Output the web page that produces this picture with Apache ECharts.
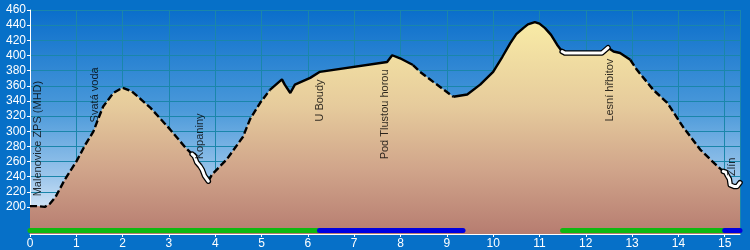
<!DOCTYPE html>
<html>
<head>
    <meta charset="utf-8"/>
    <title>Profil trasy</title>
    <script src="https://cdn.jsdelivr.net/npm/echarts@6/dist/echarts.min.js"></script>
    <style>
        body { margin: 0; }
        #main { width: 750px; height: 250px; background: #0670c8; }
    </style>
</head>
<body>
<div id="main"></div>
<script type="text/javascript">
    // profil: vzdalenost (km) a nadmorska vyska (m)
    var km = [0, 0.15, 0.32, 0.43, 0.55, 0.75, 1.0, 1.2, 1.37, 1.45, 1.58, 1.8, 2.0, 2.2, 2.59, 3.02, 3.35,
        3.5, 3.55, 3.6, 3.67, 3.72, 3.77, 3.85, 3.93, 4.25, 4.6, 4.75, 4.97, 5.18, 5.44, 5.5, 5.62, 5.72,
        6.05, 6.26, 7.71, 7.82, 7.99, 8.27, 8.42, 8.7, 9.14, 9.44, 9.72, 10.0, 10.2, 10.37, 10.5, 10.65,
        10.75, 10.9, 11.0, 11.12, 11.25, 11.38, 11.49, 11.55, 12.35, 12.48, 12.6, 12.74, 12.96, 13.1,
        13.46, 13.76, 14.1, 14.47, 14.84, 14.97, 15.02, 15.06, 15.1, 15.12, 15.2, 15.27, 15.33];
    var vyska = [200, 200, 199, 203, 212, 235, 259, 282, 299, 312, 332, 350, 357, 352, 331, 302, 278,
        269, 266, 258, 253, 248, 240, 233, 242, 262, 292, 315, 337, 354, 368, 361, 350, 361,
        370, 378, 391, 400, 396, 387, 378, 365, 345, 348, 361, 378, 398, 416, 428, 436,
        441, 444, 442, 436, 427, 414, 405, 403, 403, 410, 405, 403, 394, 381,
        354, 337, 305, 275, 253, 246, 245, 240, 236, 228, 226, 226, 231];

    // popisky zastavek
    var mistaNazvy = ['Malenovice ZPS (MHD)', 'Svatá voda', 'Kopaniny', 'U Boudy', 'Pod Tlustou horou', 'Lesní hřbitov', 'Zlín'];
    var mistaKm = [0.17, 1.4, 3.67, 6.26, 7.67, 12.53, 15.16];
    var mistaVyska = [213, 311, 262, 312, 262, 312, 240];

    // barevne useky pod profilem (od, do, barva)
    var usekyOd = [0, 6.25, 11.5, 15.0];
    var usekyDo = [6.25, 9.35, 15.0, 15.33];
    var usekyBarva = ['#10b810', '#0000e0', '#10b810', '#0000e0'];

    // styl cary profilu po usecich
    var caraOd = [0, 3.5, 3.85, 5.18, 8.27, 9.14, 11.49, 12.48, 12.96, 14.97];
    var caraDo = [3.5, 3.85, 5.18, 8.27, 9.14, 11.49, 12.48, 12.96, 14.97, 15.33];
    var caraTyp = ['dash', 'white', 'dash', 'solid', 'dash', 'solid', 'white', 'solid', 'dash', 'white'];

    var yTicks = { min: 200, max: 460, step: 20 };
    var kmMax = 15.33;

    var profil = km.map(function (k, i) { return [k, vyska[i]]; });

    function usek(a, b) {
        return profil.filter(function (p) { return p[0] >= a - 1e-6 && p[0] <= b + 1e-6; });
    }

    var myChart = echarts.init(document.getElementById('main'));
    var series = [];

    series.push({
        type: 'line', xAxisIndex: 0, yAxisIndex: 0,
        data: profil, symbol: 'none', lineStyle: { width: 0 },
        areaStyle: {
            origin: 'start', opacity: 1,
            color: new echarts.graphic.LinearGradient(0, 20, 0, 235, [
                { offset: 0, color: '#f9eca6' },
                { offset: 0.4, color: '#e6cb9c' },
                { offset: 0.7, color: '#d0a48a' },
                { offset: 1, color: '#b67c70' }
            ], true)
        },
        z: 2
    });

    caraTyp.forEach(function (t, i) {
        var d = usek(caraOd[i], caraDo[i]);
        if (t === 'white') {
            series.push({ type: 'line', data: d, symbol: 'none', z: 4,
                lineStyle: { color: '#000', width: 5.5, cap: 'round', join: 'round' } });
            series.push({ type: 'line', data: d, symbol: 'none', z: 5,
                lineStyle: { color: '#fff', width: 3, cap: 'round', join: 'round' } });
        } else {
            series.push({ type: 'line', data: d, symbol: 'none', z: 3,
                lineStyle: { color: '#000', width: 2.4, type: t === 'dash' ? [7, 3] : 'solid' } });
        }
    });

    usekyOd.forEach(function (a, i) {
        series.push({ type: 'line', data: [[a, 167.5], [usekyDo[i], 167.5]], symbol: 'none', z: 3,
            lineStyle: { color: usekyBarva[i], width: 5, cap: 'round' } });
    });

    series.push({
        type: 'scatter', symbolSize: 0, z: 6,
        data: mistaNazvy.map(function (n, i) { return { name: n, value: [mistaKm[i], mistaVyska[i]] }; }),
        label: {
            show: true, formatter: '{b}', rotate: 90, position: [0, 0],
            align: 'left', verticalAlign: 'middle',
            color: '#000', fontSize: 11, fontFamily: 'Liberation Sans, Arial, sans-serif'
        }
    });

    var gridLine = { show: true, lineStyle: { color: '#1a86aa', width: 1 } };
    var labelStyle = { color: '#fff', fontSize: 12, fontFamily: 'Liberation Sans, Arial, sans-serif' };

    var option = {
        animation: false,
        grid: [
            { left: 30, right: 10, top: 10, bottom: 15, show: true, borderWidth: 0,
                backgroundColor: new echarts.graphic.LinearGradient(0, 0, 0, 1, [
                    { offset: 0, color: '#0a6ecb' },
                    { offset: 0.45, color: '#4c9ada' },
                    { offset: 0.75, color: '#9ec7ec' },
                    { offset: 0.9, color: '#d6e7f6' },
                    { offset: 1, color: '#f2f7fc' }
                ]) },
            { left: 30, right: 10, top: 10, height: 197 }
        ],
        xAxis: [
            { gridIndex: 0, type: 'value', min: 0, max: kmMax, interval: 1,
                axisLine: { lineStyle: { color: '#fff', width: 1 } },
                axisTick: { lineStyle: { color: '#fff' }, length: 3 },
                axisLabel: Object.assign({ margin: 4, showMaxLabel: false }, labelStyle),
                splitLine: gridLine },
            { gridIndex: 1, type: 'value', min: 0, max: kmMax, show: false }
        ],
        yAxis: [
            { gridIndex: 0, type: 'value', min: 163, max: 460,
                axisLine: { show: true, lineStyle: { color: '#fff', width: 1 } },
                axisTick: { show: false }, axisLabel: { show: false }, splitLine: { show: false } },
            { gridIndex: 1, type: 'value', min: yTicks.min, max: yTicks.max, interval: yTicks.step,
                axisLine: { show: false },
                axisTick: { show: true, length: 3, lineStyle: { color: '#fff' } },
                axisLabel: Object.assign({ margin: 4 }, labelStyle),
                splitLine: gridLine }
        ],
        series: series
    };
    myChart.setOption(option);
</script>
</body>
</html>
